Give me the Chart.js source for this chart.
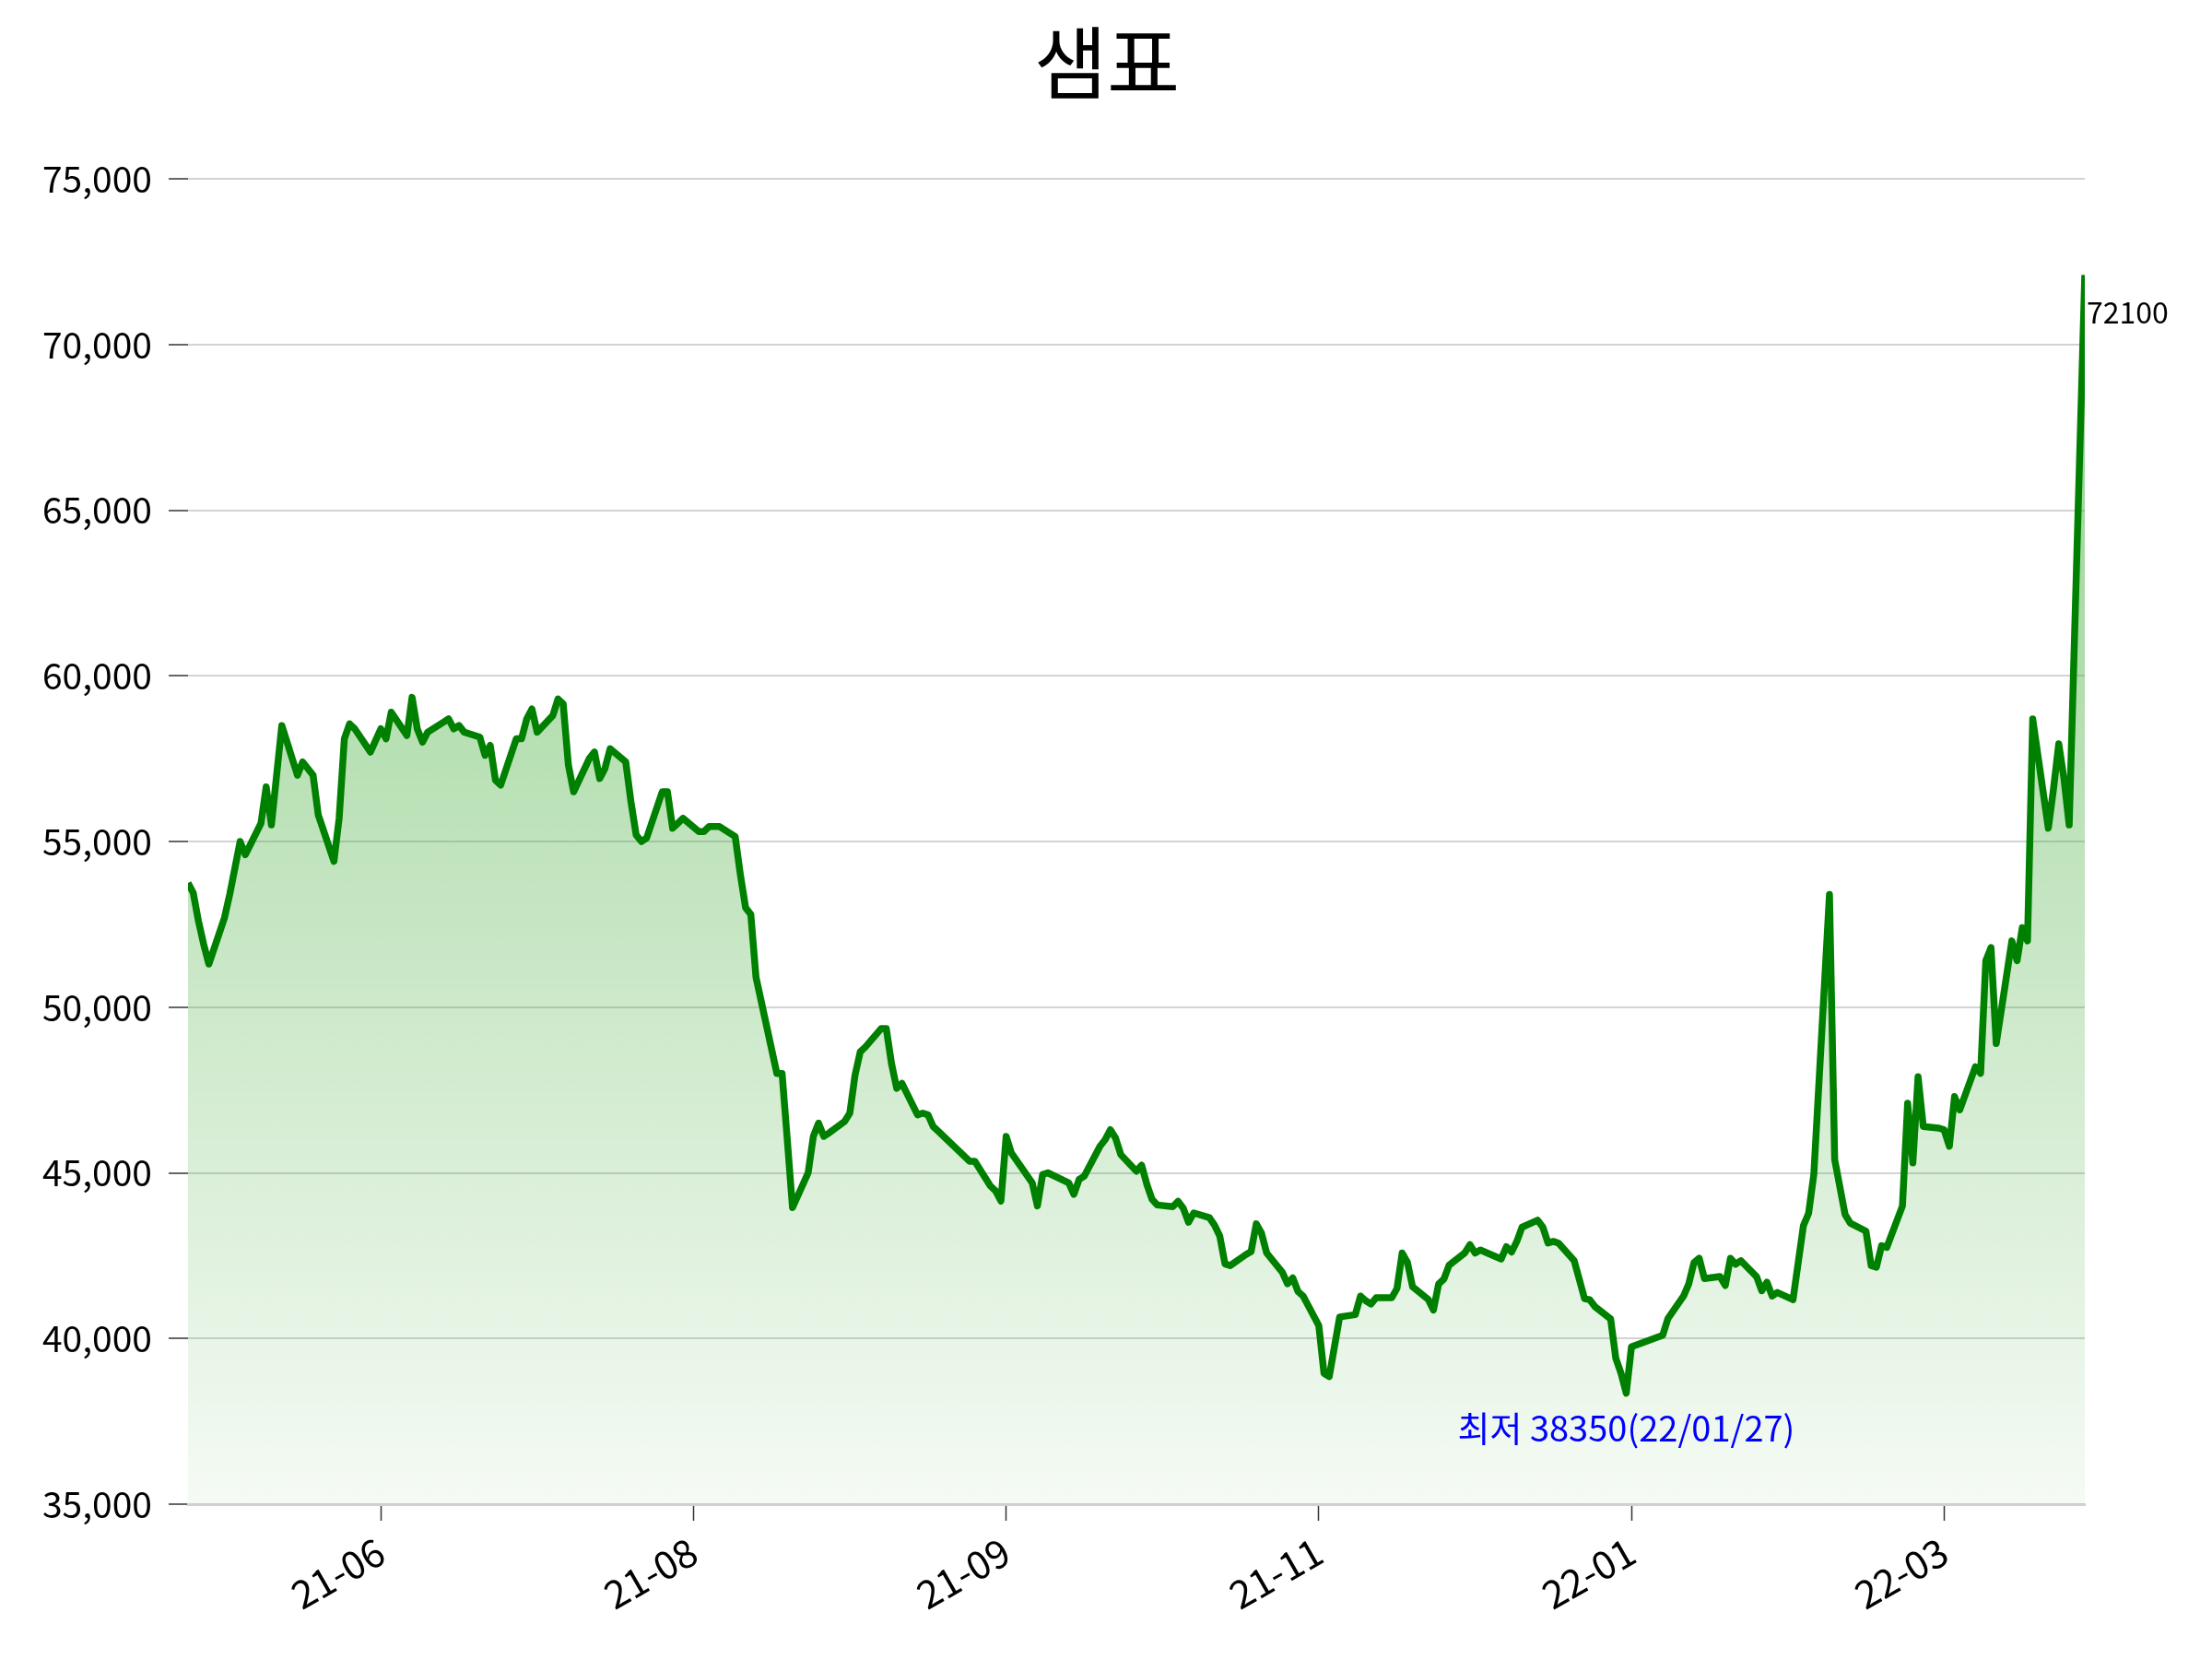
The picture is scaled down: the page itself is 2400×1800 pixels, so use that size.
<!DOCTYPE html>
<html>
<head>
<meta charset="utf-8">
<title>샘표</title>
<script src="https://cdn.jsdelivr.net/npm/chart.js@4.4.1/dist/chart.umd.min.js"></script>
<style>
  html, body { margin: 0; padding: 0; background: #ffffff; }
  #wrap { width: 2400px; height: 1800px; }
</style>
</head>
<body>
<div id="wrap"><canvas id="grafico" width="2400" height="1800"></canvas></div>
<script>
// Datos del gráfico
const titulo = "샘표";
const fechaInicio = "2021-04-26";
const fechaFin = "2022-04-25";
// días sin mercado (además de sábados y domingos)
const feriados = [
  "2021-05-05", "2021-05-19", "2021-08-16", "2021-09-20", "2021-09-21", "2021-09-22",
  "2021-10-04", "2021-10-11", "2021-12-31", "2022-01-31", "2022-02-01", "2022-02-02",
  "2022-03-01", "2022-03-09"
];
// precio de cierre por día hábil, una fila por semana
const precios = [
  53750, 53450, 52600, 51900, 51300,
  52700, 53400, 55000, 54600,
  55550, 56650, 55500, 57000, 58500,
  57000, 57400, 57000, 55800,
  54400, 55700, 58100, 58550, 58400,
  57700, 58050, 58400, 58100, 58900,
  58200, 59350, 58400, 58000, 58300,
  58600, 58700, 58400, 58500, 58300,
  58150, 57600, 57900, 56850, 56700,
  58100, 58100, 58700, 59000, 58300,
  58800, 59300, 59150, 57300, 56500,
  57500, 57700, 56900, 57200, 57800,
  57400, 56200, 55200, 55000, 55100,
  56500, 56500, 55400, 55550, 55700,
  55300, 55300, 55450, 55450, 55450,
  55150, 54000, 53000, 52800, 50900,
  48000, 48000, 46000, 43950,
  45000, 46100, 46500, 46100, 46200,
  46550, 46800, 47950, 48650, 48800,
  49350, 49350, 48300, 47550, 47700,
  46750, 46800, 46750, 46400, 46250,
  45350, 45350,
  44600, 44450, 44150, 46100, 45600,
  44700, 44000, 44950, 45000,
  44700, 44350, 44800, 44900,
  45800, 46000, 46300, 46050, 45550,
  45050, 45230, 44650, 44200, 44030,
  43980, 44140, 43930, 43510, 43790,
  43650, 43420, 43090, 42250, 42200,
  42530, 42620, 43460, 43180, 42580,
  42000, 41650, 41830, 41420, 41280,
  40390, 38950, 38850, 39750, 40650,
  40720, 41280, 41140, 41040, 41230,
  41230, 41510, 42580, 42300, 41560,
  41180, 40860, 41650, 41790, 42210,
  42580, 42830, 42580, 42670,
  42400, 42770, 42610, 42930, 43360,
  43570, 43360, 42880, 42930, 42880,
  42350, 41780, 41200, 41170, 40960,
  40590, 39400, 38950, 38350, 39750,
  40100, 40600,
  41280, 41650, 42290, 42420, 41810,
  41870, 41600, 42420, 42240, 42350,
  41870, 41440, 41700, 41280, 41390,
  41170, 43410, 43780, 44960,
  53400, 45400, 43740, 43480,
  43240, 42200, 42150, 42800, 42750,
  44000, 47100, 45300, 47900, 46400,
  46350, 46300, 45800, 47300, 46900,
  48200, 48000, 51400, 51800, 48900,
  52000, 51400, 52400, 52000, 58700,
  55400, 56600, 57950, 56900, 55500,
  72100
];
// marcas del eje x (fecha de la marca y su texto)
const fechasMarcas = ["2021-06-02", "2021-08-01", "2021-09-30", "2021-11-29", "2022-01-28", "2022-03-29"];
const textosMarcas = ["21-06", "21-08", "21-09", "21-11", "22-01", "22-03"];
// eje y
const yMin = 35000;
const yMax = 75000;
const yPaso = 5000;

const DIA = 86400000;
const t0 = Date.parse(fechaInicio);
function indiceDia(s) { return Math.round((Date.parse(s) - t0) / DIA); }

// lista de días hábiles (como número de día desde el inicio)
const diasHabiles = [];
const fechasHabiles = [];
for (let d = 0; d <= indiceDia(fechaFin); d++) {
  const f = new Date(t0 + d * DIA);
  const iso = f.toISOString().slice(0, 10);
  const wd = f.getUTCDay();
  if (wd === 0 || wd === 6 || feriados.includes(iso)) continue;
  diasHabiles.push(d);
  fechasHabiles.push(iso);
}
if (diasHabiles.length !== precios.length) {
  console.log("largo distinto", diasHabiles.length, precios.length);
}

const puntos = precios.map((p, i) => ({ x: diasHabiles[i], y: p }));
const marcas = fechasMarcas.map(indiceDia);

// mínimo y último valor
let iMin = 0;
precios.forEach((p, i) => { if (p < precios[iMin]) iMin = i; });
const iUlt = precios.length - 1;
const fMin = fechasHabiles[iMin];
const textoMin = "최저 " + precios[iMin] + "(" + fMin.slice(2, 4) + "/" + fMin.slice(5, 7) + "/" + fMin.slice(8, 10) + ")";

const fuente = "'Noto Sans CJK KR', 'Noto Sans', sans-serif";
Chart.defaults.font.family = fuente;
Chart.defaults.color = "#000000";

// Plugin para el título y las anotaciones
const textosPlugin = {
  id: "textos",
  afterDraw(chart) {
    const ctx = chart.ctx;
    const meta = chart.getDatasetMeta(0);
    ctx.save();
    ctx.fillStyle = "#000000";
    ctx.font = "86px " + fuente;
    ctx.textAlign = "center";
    ctx.textBaseline = "middle";
    ctx.fillText(titulo, 1201, 68);

    const pu = meta.data[iUlt];
    ctx.font = "32px " + fuente;
    ctx.textAlign = "left";
    ctx.fillText(String(precios[iUlt]), pu.x + 2, pu.y + 41);

    const pm = meta.data[iMin];
    ctx.fillStyle = "#0000ff";
    ctx.font = "38px " + fuente;
    ctx.textAlign = "center";
    ctx.fillText(textoMin, pm.x, pm.y + 38);
    ctx.restore();
  }
};

const ctx = document.getElementById("grafico").getContext("2d");
new Chart(ctx, {
  type: "line",
  data: {
    datasets: [{
      data: puntos,
      borderColor: "#008000",
      borderWidth: 7.5,
      borderJoinStyle: "round",
      pointRadius: 0,
      tension: 0,
      fill: "start",
      backgroundColor: (c) => {
        const area = c.chart.chartArea;
        if (!area) return "rgba(60,170,50,0.2)";
        const g = c.chart.ctx.createLinearGradient(0, area.bottom, 0, area.top);
        g.addColorStop(0, "rgba(60,170,50,0.05)");
        g.addColorStop(1, "rgba(60,170,50,0.6)");
        return g;
      }
    }]
  },
  options: {
    responsive: false,
    animation: false,
    devicePixelRatio: 1,
    layout: { padding: { top: 194, right: 138, left: 0, bottom: 0 } },
    plugins: {
      legend: { display: false },
      title: { display: false },
      tooltip: { enabled: false }
    },
    scales: {
      x: {
        type: "linear",
        min: 0,
        max: indiceDia(fechaFin),
        afterBuildTicks: (s) => { s.ticks = marcas.map((v) => ({ value: v })); },
        afterFit: (s) => { s.height = 168; },
        ticks: {
          autoSkip: false,
          minRotation: 30,
          maxRotation: 30,
          padding: 8,
          font: { size: 42 },
          color: "#000000",
          callback: (v) => textosMarcas[marcas.indexOf(v)]
        },
        grid: {
          drawOnChartArea: false,
          drawTicks: true,
          tickLength: 18,
          tickColor: "#333333",
          tickWidth: 1.5
        },
        border: { display: true, color: "#d0d0d0", width: 3 }
      },
      y: {
        min: yMin,
        max: yMax,
        afterFit: (s) => { s.width = 204; },
        ticks: {
          stepSize: yPaso,
          padding: 18,
          font: { size: 39 },
          color: "#000000",
          callback: (v) => v.toLocaleString("en-US")
        },
        grid: {
          color: "#d3d3d3",
          lineWidth: 2,
          tickLength: 21,
          tickColor: "#333333",
          tickWidth: 1.5
        },
        border: { display: false }
      }
    }
  },
  plugins: [textosPlugin]
});
</script>
</body>
</html>
